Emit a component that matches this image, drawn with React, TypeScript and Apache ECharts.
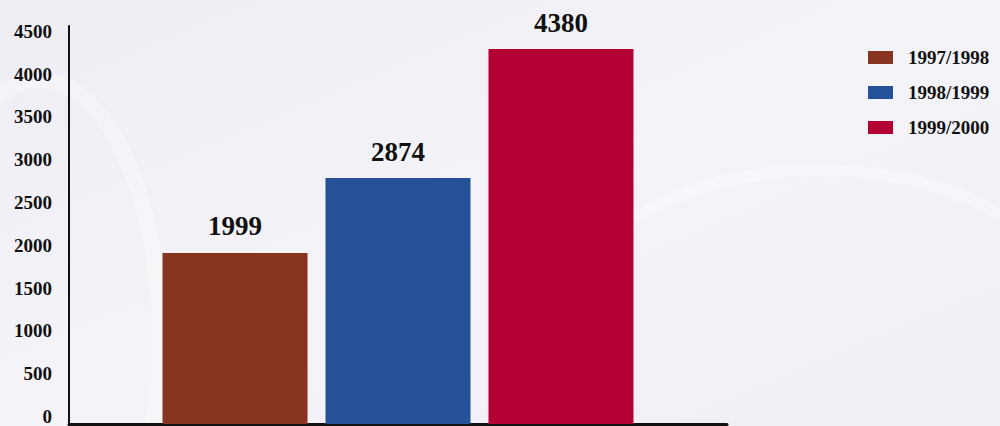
import React, { useEffect, useRef } from "react";
import * as echarts from "echarts";

const categories = [""];
const seriesNames = ["1997/1998", "1998/1999", "1999/2000"];
const seriesValues = [1999, 2874, 4380];
const seriesColors = ["#873520", "#245198", "#b40032"];
const yTickInterval = 500;

export default function App() {
  const ref = useRef<HTMLDivElement>(null);
  useEffect(() => {
    if (!ref.current) return;
    const chart = echarts.init(ref.current, undefined, { renderer: "svg", width: 1000, height: 426 });
    const serif = "'Liberation Serif', serif";
    chart.setOption({
      animation: false,
      backgroundColor: {
        type: "linear",
        x: 0, y: 0, x2: 1, y2: 1,
        colorStops: [
          { offset: 0, color: "#eeedf3" },
          { offset: 0.5, color: "#f4f3f8" },
          { offset: 1, color: "#f0eff5" },
        ],
      },
      graphic: [
        { type: "ellipse", shape: { cx: 820, cy: 330, rx: 260, ry: 160 }, style: { fill: "none", stroke: "rgba(255,255,255,0.35)", lineWidth: 12 }, silent: true, z: -10 },
        { type: "ellipse", shape: { cx: 40, cy: 340, rx: 120, ry: 260 }, style: { fill: "none", stroke: "rgba(255,255,255,0.3)", lineWidth: 16 }, silent: true, z: -10 },
      ],
      grid: { left: 69, right: 273, top: 26, bottom: 2, containLabel: false, outerBoundsMode: "none" },
      legend: {
        orient: "vertical",
        left: 863,
        top: 43,
        itemWidth: 25,
        itemHeight: 13,
        itemGap: 16,
        icon: "rect",
        data: seriesNames,
        textStyle: { fontFamily: serif, fontWeight: "bold", fontSize: 19, color: "#111", padding: [0, 0, 0, 10] },
      },
      xAxis: {
        type: "category",
        data: categories,
        axisLine: { show: true, lineStyle: { color: "#111", width: 3 } },
        axisTick: { show: false },
        axisLabel: { show: false },
      },
      yAxis: {
        type: "value",
        min: 0,
        max: 4650,
        interval: yTickInterval,
        axisLine: { show: true, lineStyle: { color: "#111", width: 2 } },
        axisTick: { show: false },
        splitLine: { show: false },
        axisLabel: {
          showMaxLabel: false,
          margin: 17,
          verticalAlign: "bottom",
          lineHeight: 15,
          fontFamily: serif,
          fontWeight: "bold",
          fontSize: 19,
          color: "#111",
          formatter: (v: number) => (v % yTickInterval === 0 ? String(v) : ""),
        },
      },
      series: seriesNames.map((name, i) => ({
        name,
        type: "bar",
        data: [seriesValues[i]],
        barWidth: 145,
        barGap: "12.4%",
        itemStyle: { color: seriesColors[i] },
        label: {
          show: true,
          position: "top",
          distance: 13,
          fontFamily: serif,
          fontWeight: "bold",
          fontSize: 27,
          color: "#111",
        },
      })),
    });
    return () => chart.dispose();
  }, []);
  return <div ref={ref} style={{ width: 1000, height: 426, position: "fixed", left: 0, top: 0 }} />;
}
